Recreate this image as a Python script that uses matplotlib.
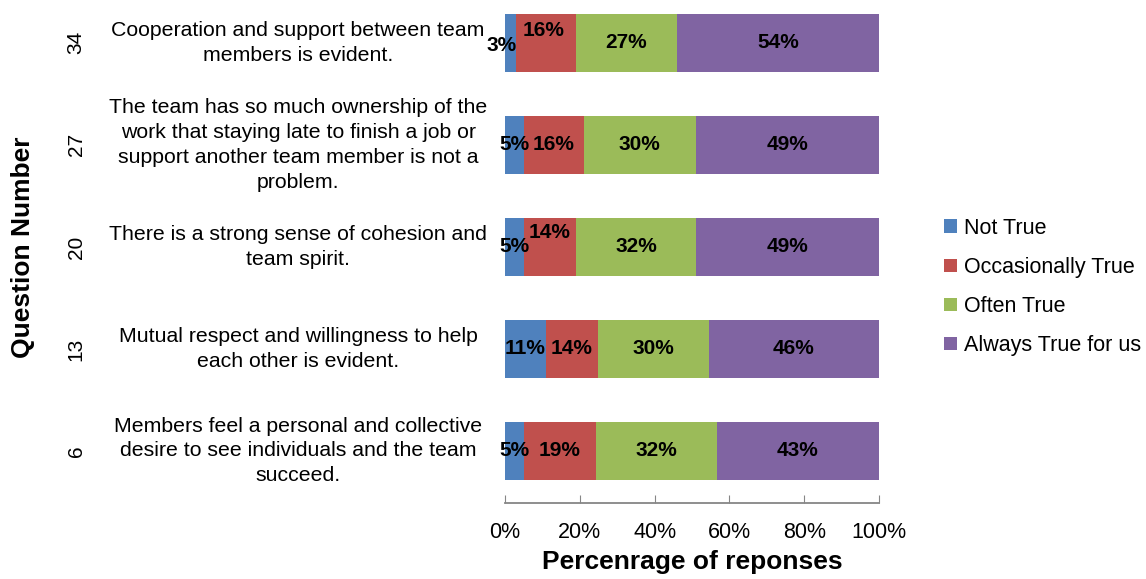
import numpy as np
import matplotlib.pyplot as plt

plt.rcParams['font.family'] = ['Liberation Sans', 'DejaVu Sans']

question_numbers = ['34', '27', '20', '13', '6']
questions = [
    'Cooperation and support between team\nmembers is evident.',
    'The team has so much ownership of the\nwork that staying late to finish a job or\nsupport another team member is not a\nproblem.',
    'There is a strong sense of cohesion and\nteam spirit.',
    'Mutual respect and willingness to help\neach other is evident.',
    'Members feel a personal and collective\ndesire to see individuals and the team\nsucceed.',
]
categories = ['Not True', 'Occasionally True', 'Often True', 'Always True for us']
not_true = [3, 5, 5, 11, 5]
occasionally = [16, 16, 14, 14, 19]
often = [27, 30, 32, 30, 32]
always = [54, 49, 49, 46, 43]
colors = ['#4F81BD', '#C0504D', '#9BBB59', '#8064A2']

series = np.array([not_true, occasionally, often, always], dtype=float)
shares = series / series.sum(axis=0) * 100  # 100% stacked

# per-label nudges (dx in %, dy in rows) for labels that would collide
nudge = {(0, 0): (-2.3, -0.03), (1, 0): (-0.8, 0.12), (1, 2): (0, 0.14)}

fig = plt.figure(figsize=(11.46, 5.79), dpi=100)
ax = fig.add_axes([505 / 1146, 76 / 579, 374 / 1146, 503 / 579])

ypos = np.arange(len(question_numbers))[::-1]
left = np.zeros(len(question_numbers))
for i, (name, c) in enumerate(zip(categories, colors)):
    ax.barh(ypos, shares[i], left=left, height=0.57, color=c, label=name)
    for j in range(len(ypos)):
        dx, dy = nudge.get((i, j), (0, 0))
        ax.text(left[j] + shares[i][j] / 2 + dx, ypos[j] + dy,
                f'{int(series[i][j])}%', ha='center', va='center',
                fontsize=15, fontweight='bold', color='black')
    left += shares[i]

ax.set_xlim(0, 100)
ax.set_ylim(-0.51, 4.42)
ax.set_xticks(np.arange(0, 101, 20))
ax.set_xticklabels([f'{v}%' for v in range(0, 101, 20)], fontsize=15.5)
ax.tick_params(axis='x', direction='in', length=6, color='#868686', pad=14)
ax.set_yticks(ypos)
ax.set_yticklabels(question_numbers, rotation=90, va='center', fontsize=15)
ax.tick_params(axis='y', length=0, pad=302)
for s in ['top', 'right', 'left']:
    ax.spines[s].set_visible(False)
ax.spines['bottom'].set_color('#868686')
ax.spines['bottom'].set_linewidth(1.3)

for y, q in zip(ypos, questions):
    ax.text(-0.553, y, q, transform=ax.get_yaxis_transform(),
            ha='center', va='center', fontsize=15.3, linespacing=1.39)

ax.set_xlabel('Percenrage of reponses', fontsize=19, fontweight='bold', labelpad=5)
fig.text(23 / 1146, 1 - 247 / 579, 'Question Number', rotation=90, ha='center', va='center',
         fontsize=19, fontweight='bold')

fig.legend(loc='center left', bbox_to_anchor=(925 / 1146, 1 - 287 / 579), frameon=False,
           fontsize=15.5, handlelength=0.6, handleheight=0.6, handletextpad=0.3,
           labelspacing=0.84)

plt.savefig('out.png', dpi=100)
